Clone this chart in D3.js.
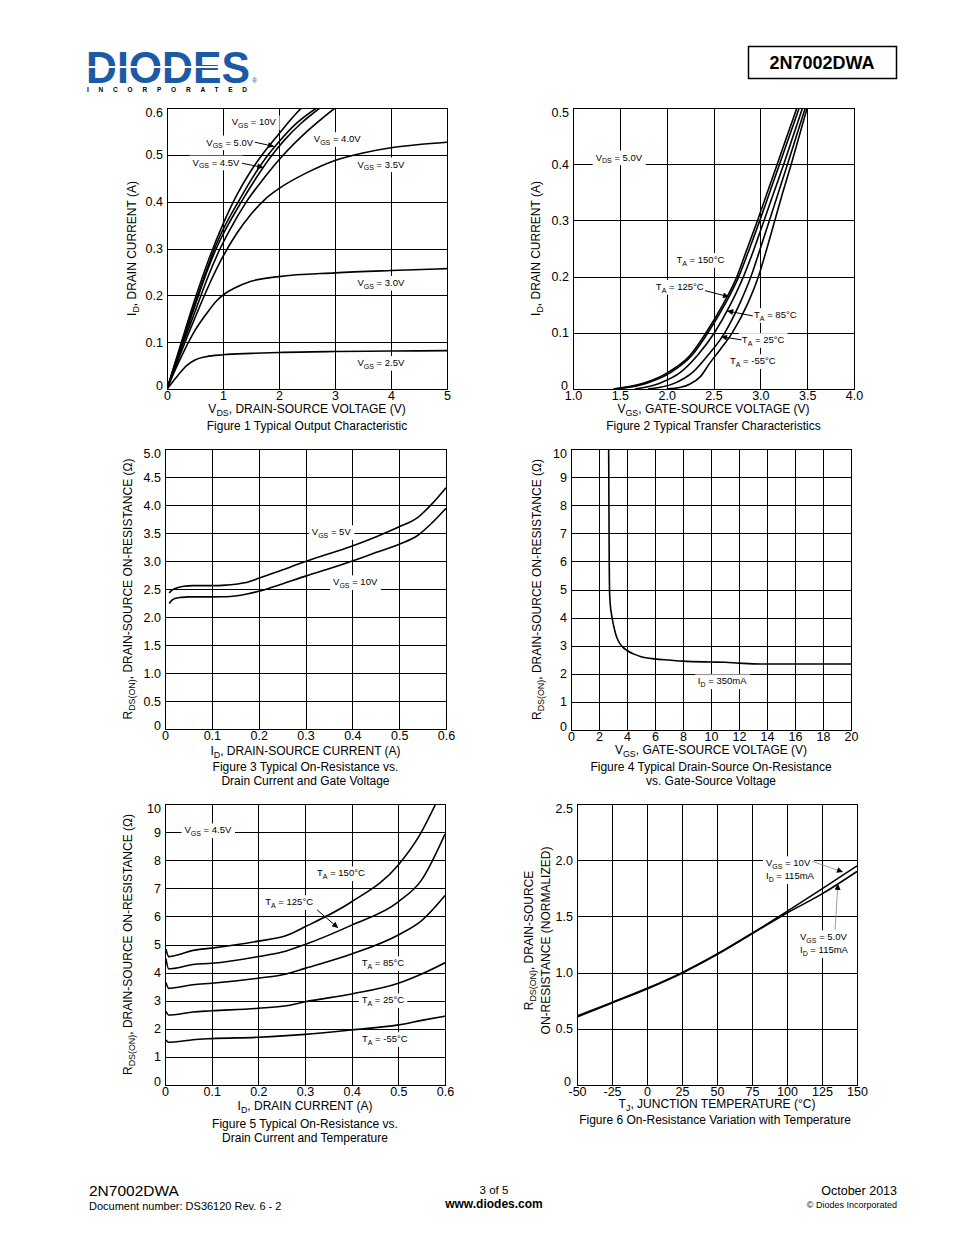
<!DOCTYPE html>
<html><head><meta charset="utf-8">
<script src="https://cdn.jsdelivr.net/npm/d3@7"></script>
<style>
body{margin:0;background:#fff}
svg{display:block}
text{font-family:"Liberation Sans",Arial,Helvetica,sans-serif;white-space:pre}
</style>
</head><body>
<svg id="page" width="954" height="1235"></svg>
<script>
// ---------------- DATA ----------------
// Figure 1: Typical Output Characteristic  [VDS (V), ID (A)]
const f1XTicks = [0,1,2,3,4,5];
const f1YTicks = [0,0.1,0.2,0.3,0.4,0.5,0.6];
const f1Vgs10 = [[0,0],[0.25,0.097],[0.5,0.192],[0.75,0.278],[1,0.352],[1.25,0.415],[1.5,0.466],[1.75,0.508],[2,0.545],[2.2,0.574],[2.4,0.6]];
const f1Vgs50 = [[0,0],[0.25,0.093],[0.5,0.183],[0.75,0.268],[0.85,0.3],[1,0.34],[1.29,0.403],[1.5,0.446],[1.78,0.496],[2,0.528],[2.3,0.566],[2.67,0.6]];
const f1Vgs45 = [[0,0],[0.25,0.09],[0.5,0.178],[0.75,0.262],[0.88,0.3],[1,0.33],[1.33,0.4],[1.6,0.452],[1.86,0.497],[2.1,0.532],[2.4,0.568],[2.73,0.6]];
const f1Vgs40 = [[0,0],[0.25,0.085],[0.5,0.165],[0.75,0.245],[0.95,0.3],[1.1,0.335],[1.42,0.4],[1.75,0.453],[2.08,0.5],[2.5,0.55],[3.0,0.6]];
const f1Vgs35 = [[0,0],[0.25,0.078],[0.5,0.152],[0.75,0.222],[1,0.283],[1.25,0.333],[1.5,0.373],[1.75,0.405],[2,0.428],[2.5,0.462],[3,0.488],[3.5,0.504],[4,0.515],[4.5,0.522],[5,0.527]];
const f1Vgs30 = [[0,0],[0.15,0.042],[0.3,0.08],[0.5,0.125],[0.7,0.16],[0.9,0.19],[1.05,0.205],[1.2,0.215],[1.5,0.23],[2,0.24],[3,0.248],[4,0.253],[5,0.257]];
const f1Vgs25 = [[0,0],[0.1,0.015],[0.2,0.03],[0.35,0.05],[0.5,0.062],[0.7,0.069],[1,0.073],[1.5,0.076],[2,0.078],[3,0.08],[4,0.081],[5,0.082]];

// Figure 2: Typical Transfer Characteristics  [VGS (V), ID (A)]
const f2XTicks = [1.0,1.5,2.0,2.5,3.0,3.5,4.0];
const f2YTicks = [0,0.1,0.2,0.3,0.4,0.5];
const f2Ta150 = [[1.43,0],[1.75,0.01],[2.02,0.03],[2.25,0.06],[2.42,0.1],[2.6,0.15],[2.75,0.2],[2.86,0.25],[2.97,0.3],[3.075,0.35],[3.18,0.4],[3.285,0.45],[3.39,0.5]];
const f2Ta125 = [[1.45,0],[1.78,0.01],[2.05,0.03],[2.27,0.06],[2.44,0.1],[2.62,0.15],[2.77,0.2],[2.885,0.25],[2.995,0.3],[3.1,0.35],[3.205,0.4],[3.31,0.45],[3.415,0.5]];
const f2Ta85 = [[1.66,0],[1.92,0.01],[2.15,0.03],[2.33,0.06],[2.51,0.1],[2.68,0.15],[2.82,0.2],[2.935,0.25],[3.04,0.3],[3.145,0.35],[3.25,0.4],[3.35,0.45],[3.45,0.5]];
const f2Ta25 = [[1.8,0],[2.08,0.01],[2.28,0.03],[2.44,0.06],[2.62,0.1],[2.775,0.15],[2.9,0.2],[3.0,0.25],[3.097,0.3],[3.194,0.35],[3.29,0.4],[3.385,0.45],[3.48,0.5]];
const f2TaM55 = [[2.0,0],[2.15,0.003],[2.25,0.009],[2.36,0.022],[2.46,0.046],[2.57,0.07],[2.7,0.1],[2.86,0.15],[2.98,0.2],[3.07,0.25],[3.155,0.3],[3.24,0.35],[3.33,0.4],[3.415,0.45],[3.5,0.5]];

// Figure 3: On-Resistance vs Drain Current and Gate Voltage  [ID (A), RDS(ON) (ohm)]
const f3XTicks = [0,0.1,0.2,0.3,0.4,0.5,0.6];
const f3YTicks = [0,0.5,1.0,1.5,2.0,2.5,3.0,3.5,4.0,4.5,5.0];
const f3Vgs5 = [[0.009,2.43],[0.015,2.48],[0.025,2.52],[0.04,2.55],[0.06,2.56],[0.1,2.56],[0.13,2.57],[0.17,2.61],[0.2,2.69],[0.25,2.84],[0.3,2.99],[0.35,3.13],[0.4,3.27],[0.45,3.43],[0.5,3.61],[0.54,3.78],[0.57,4.02],[0.6,4.31]];
const f3Vgs10 = [[0.009,2.24],[0.015,2.3],[0.021,2.33],[0.035,2.35],[0.05,2.36],[0.1,2.36],[0.13,2.362],[0.15,2.375],[0.175,2.41],[0.2,2.46],[0.25,2.59],[0.3,2.73],[0.35,2.86],[0.4,3.0],[0.45,3.15],[0.5,3.3],[0.54,3.46],[0.57,3.68],[0.6,3.94]];

// Figure 4: On-Resistance vs Gate-Source Voltage  [VGS (V), RDS(ON) (ohm)]
const f4XTicks = [0,2,4,6,8,10,12,14,16,18,20];
const f4YTicks = [0,1,2,3,4,5,6,7,8,9,10];
const f4Id350 = [[2.69,10],[2.71,8],[2.73,6],[2.75,5],[2.8,4.5],[2.9,4.1],[3.05,3.7],[3.2,3.4],[3.4,3.15],[3.7,2.95],[4.0,2.83],[4.5,2.7],[5,2.61],[6,2.53],[7,2.49],[8,2.45],[10,2.42],[11,2.41],[12,2.38],[13.5,2.35],[16,2.35],[20,2.35]];

// Figure 5: On-Resistance vs Drain Current and Temperature  [ID (A), RDS(ON) (ohm)]
const f5XTicks = [0,0.1,0.2,0.3,0.4,0.5,0.6];
const f5YTicks = [0,1,2,3,4,5,6,7,8,9,10];
const f5TaM55 = [[0.002,1.6],[0.008,1.52],[0.02,1.53],[0.06,1.61],[0.1,1.65],[0.2,1.7],[0.3,1.8],[0.4,1.96],[0.5,2.14],[0.55,2.3],[0.6,2.45]];
const f5Ta25 = [[0.002,2.62],[0.008,2.49],[0.02,2.5],[0.06,2.6],[0.1,2.64],[0.2,2.73],[0.26,2.82],[0.3,2.96],[0.4,3.24],[0.5,3.62],[0.55,3.95],[0.6,4.35]];
const f5Ta85 = [[0.002,3.65],[0.008,3.44],[0.02,3.46],[0.06,3.57],[0.1,3.62],[0.2,3.8],[0.26,3.95],[0.3,4.15],[0.4,4.66],[0.5,5.34],[0.55,5.85],[0.6,6.74]];
const f5Ta125 = [[0.002,4.5],[0.008,4.13],[0.02,4.15],[0.06,4.29],[0.1,4.33],[0.2,4.57],[0.26,4.77],[0.3,5.0],[0.4,5.69],[0.5,6.52],[0.55,7.3],[0.6,8.93]];
const f5Ta150 = [[0.002,4.84],[0.008,4.57],[0.02,4.6],[0.06,4.79],[0.1,4.87],[0.2,5.12],[0.26,5.32],[0.3,5.63],[0.4,6.52],[0.5,7.83],[0.546,8.9],[0.58,10]];

// Figure 6: On-Resistance Variation with Temperature  [TJ (C), RDS(ON) normalized]
const f6XTicks = [-50,-25,0,25,50,75,100,125,150];
const f6YTicks = [0,0.5,1.0,1.5,2.0,2.5];
const f6Vgs10 = [[-50,0.615],[-25,0.735],[0,0.86],[25,1.0],[50,1.165],[75,1.35],[100,1.545],[125,1.745],[150,1.95]];
const f6Vgs5 = [[-50,0.605],[-25,0.73],[0,0.855],[25,0.995],[50,1.16],[75,1.345],[100,1.53],[125,1.7],[150,1.9]];

// ---------------- DRAWING ----------------
const svg = d3.select('#page');
const FONT = '"Liberation Sans",Arial,Helvetica,sans-serif';
const defs = svg.append('defs');
defs.append('marker').attr('id','arr').attr('viewBox','0 0 10 10').attr('refX',10).attr('refY',5)
  .attr('markerWidth',8).attr('markerHeight',6).attr('markerUnits','userSpaceOnUse').attr('orient','auto')
  .append('path').attr('d','M0,0 L10,5 L0,10 Z').attr('fill','#000');

function rich(t, s, fs) {
  const parts = s.split(/(\{[^}]*\})/).filter(p => p.length);
  let sub = false;
  parts.forEach(p => {
    if (p[0] === '{') {
      t.append('tspan').attr('dy', fs*0.28).attr('font-size', fs*0.74).text(p.slice(1,-1));
      sub = true;
    } else {
      const ts = t.append('tspan').text(p);
      if (sub) { ts.attr('dy', -fs*0.28); sub = false; }
    }
  });
  return t;
}
function txt(g, x, y, s, fs, anchor, weight) {
  const t = g.append('text').attr('x', x).attr('y', y).attr('font-size', fs)
    .attr('text-anchor', anchor || 'start').attr('font-weight', weight || 'normal').attr('fill','#000');
  return rich(t, s, fs);
}
const fmt1 = d => d === 0 ? '0' : d3.format('.1f')(d);
const fmt0 = d => String(d);

let clipN = 0;
function chart(o) {
  const g = svg.append('g');
  const x = d3.scaleLinear().domain(o.xd).range([o.l, o.r]);
  const y = d3.scaleLinear().domain(o.yd).range([o.b, o.t]);
  const cr = v => Math.round(v) + 0.5;
  // grid
  g.append('g').selectAll('line').data(o.xt).join('line')
    .attr('x1', d => cr(x(d))).attr('x2', d => cr(x(d))).attr('y1', o.t).attr('y2', o.b)
    .attr('stroke', '#000').attr('stroke-width', 1);
  g.append('g').selectAll('line').data(o.yt).join('line')
    .attr('y1', d => cr(y(d))).attr('y2', d => cr(y(d))).attr('x1', o.l).attr('x2', o.r)
    .attr('stroke', '#000').attr('stroke-width', 1);
  g.append('rect').attr('x', cr(o.l)).attr('y', cr(o.t)).attr('width', Math.round(o.r)-Math.round(o.l)).attr('height', Math.round(o.b)-Math.round(o.t))
    .attr('fill','none').attr('stroke','#000').attr('stroke-width',1);
  // tick labels
  const TF = 12.5;
  const ax = g.append('g').attr('transform', `translate(0,${o.b})`)
    .call(d3.axisBottom(x).tickValues(o.xt).tickFormat(o.xf).tickSize(0).tickPadding(2));
  ax.select('.domain').remove();
  ax.attr('font-family', FONT).attr('font-size', TF);
  ax.selectAll('text').attr('fill','#000');
  const ay = g.append('g').attr('transform', `translate(${o.l},0)`)
    .call(d3.axisLeft(y).tickValues(o.yt).tickFormat(o.yf).tickSize(0).tickPadding(4));
  ay.select('.domain').remove();
  ay.attr('font-family', FONT).attr('font-size', TF);
  ay.selectAll('text').attr('fill','#000');
  const ymax = d3.max(o.yt), ymin = d3.min(o.yt);
  ay.selectAll('.tick').filter(d => d === ymax).select('text').attr('dy', '0.65em');
  ay.selectAll('.tick').filter(d => d === ymin).select('text').attr('dy', '0.02em').attr('dx', o.zeroDx || 0);
  // clip
  const cid = 'clip' + (++clipN);
  defs.append('clipPath').attr('id', cid).append('rect')
    .attr('x', o.l).attr('y', o.t).attr('width', o.r - o.l).attr('height', o.b - o.t);
  const line = d3.line().x(d => x(d[0])).y(d => y(d[1])).curve(d3.curveMonotoneX);
  g.append('g').attr('clip-path', `url(#${cid})`).selectAll('path').data(o.series).join('path')
    .attr('d', d => line(d)).attr('fill','none').attr('stroke','#000').attr('stroke-width',1.6)
    .attr('stroke-linejoin','round');
  // annotations: labels with white background
  (o.labels || []).forEach(L => {
    const fs = L.fs || 9.5;
    const lg = g.append('g');
    const t = txt(lg, x(L.x), y(L.y) + fs*0.35, L.s, fs, L.anchor || 'middle');
    const bb = t.node().getBBox();
    lg.insert('rect', 'text').attr('x', bb.x - 3).attr('y', bb.y - 1).attr('width', bb.width + 6).attr('height', bb.height + 2).attr('fill', '#fff');
  });
  (o.arrows || []).forEach(A => {
    g.append('line').attr('x1', x(A.from[0])).attr('y1', y(A.from[1])).attr('x2', x(A.to[0])).attr('y2', y(A.to[1]))
      .attr('stroke', A.color || '#000').attr('stroke-width', A.w || 1).attr('marker-end', 'url(#arr)');
  });
  // axis titles
  const ttl = g.append('g');
  txt(ttl, (o.l + o.r)/2, o.b + o.xtDy, o.xTitle, 12, 'middle');
  o.caption.forEach((c, i) => txt(ttl, (o.l + o.r)/2 + (o.capDx||0), o.b + o.capDy + i*14, c, 12, 'middle'));
  o.yTitle.forEach((yt, i) => {
    const t = ttl.append('text').attr('transform', `translate(${o.ytX[i]},${(o.t + o.b)/2 + (o.ytDy||0)}) rotate(-90)`)
      .attr('font-size', 12).attr('text-anchor', 'middle').attr('fill','#000');
    rich(t, yt, 12);
  });
}

// ---- Figure 1
chart({l:167, r:447, t:108, b:389, xd:[0,5], yd:[0,0.6], xt:f1XTicks, yt:f1YTicks, xf:fmt0, yf:fmt1,
  series:[f1Vgs10,f1Vgs50,f1Vgs45,f1Vgs40,f1Vgs35,f1Vgs30,f1Vgs25],
  labels:[
    {s:'V{GS} = 10V', x:1.55, y:0.57},
    {s:'V{GS} = 5.0V', x:1.12, y:0.527},
    {s:'V{GS} = 4.5V', x:0.875, y:0.484},
    {s:'V{GS} = 4.0V', x:3.04, y:0.534},
    {s:'V{GS} = 3.5V', x:3.82, y:0.48},
    {s:'V{GS} = 3.0V', x:3.82, y:0.227},
    {s:'V{GS} = 2.5V', x:3.82, y:0.056}],
  arrows:[{from:[1.57,0.527], to:[1.91,0.518]},{from:[1.34,0.482], to:[1.72,0.473]}],
  xTitle:'V{DS}, DRAIN-SOURCE VOLTAGE (V)', xtDy:24, caption:['Figure 1 Typical Output Characteristic'], capDy:41,
  yTitle:['I{D}, DRAIN CURRENT (A)'], ytX:[136]});

// ---- Figure 2
chart({l:573, r:854, t:108, b:389, xd:[1,4], yd:[0,0.5], xt:f2XTicks, yt:f2YTicks, xf:d3.format('.1f'), yf:fmt1, zeroDx:-1,
  series:[f2Ta150,f2Ta125,f2Ta85,f2Ta25,f2TaM55],
  labels:[
    {s:'V{DS} = 5.0V', x:1.49, y:0.4125},
    {s:'T{A} = 150°C', x:2.36, y:0.23},
    {s:'T{A} = 125°C', x:2.14, y:0.182},
    {s:'T{A} = 85°C', x:3.16, y:0.132},
    {s:'T{A} = 25°C', x:3.03, y:0.0875},
    {s:'T{A} = -55°C', x:2.92, y:0.05}],
  arrows:[{from:[2.41,0.175], to:[2.665,0.164]},{from:[2.92,0.13], to:[2.645,0.139]},{from:[2.8,0.0875], to:[2.58,0.093]}],
  xTitle:'V{GS}, GATE-SOURCE VOLTAGE (V)', xtDy:24, caption:['Figure 2 Typical Transfer Characteristics'], capDy:41,
  yTitle:['I{D}, DRAIN CURRENT (A)'], ytX:[540]});

// ---- Figure 3
chart({l:165, r:446, t:449, b:729, xd:[0,0.6], yd:[0,5], xt:f3XTicks, yt:f3YTicks, xf:fmt1, yf:fmt1,
  series:[f3Vgs5,f3Vgs10],
  labels:[{s:'V{GS} = 5V', x:0.355, y:3.52},{s:'V{GS} = 10V', x:0.406, y:2.625}],
  xTitle:'I{D}, DRAIN-SOURCE CURRENT (A)', xtDy:26, caption:['Figure 3 Typical On-Resistance vs.','Drain Current and Gate Voltage'], capDy:42,
  yTitle:['R{DS(ON)}, DRAIN-SOURCE ON-RESISTANCE (Ω)'], ytX:[132]});

// ---- Figure 4
chart({l:571, r:851, t:449, b:730, xd:[0,20], yd:[0,10], xt:f4XTicks, yt:f4YTicks, xf:fmt0, yf:fmt0,
  series:[f4Id350],
  labels:[{s:'I{D} = 350mA', x:10.8, y:1.74}],
  xTitle:'V{GS}, GATE-SOURCE VOLTAGE (V)', xtDy:24, caption:['Figure 4 Typical Drain-Source On-Resistance','vs. Gate-Source Voltage'], capDy:41,
  yTitle:['R{DS(ON)}, DRAIN-SOURCE ON-RESISTANCE (Ω)'], ytX:[541]});

// ---- Figure 5
chart({l:165, r:445, t:804, b:1085, xd:[0,0.6], yd:[0,10], xt:f5XTicks, yt:f5YTicks, xf:fmt1, yf:fmt0,
  series:[f5TaM55,f5Ta25,f5Ta85,f5Ta125,f5Ta150],
  labels:[
    {s:'V{GS} = 4.5V', x:0.092, y:9.07},
    {s:'T{A} = 150°C', x:0.377, y:7.54},
    {s:'T{A} = 125°C', x:0.266, y:6.51},
    {s:'T{A} = 85°C', x:0.467, y:4.34},
    {s:'T{A} = 25°C', x:0.467, y:3.02},
    {s:'T{A} = -55°C', x:0.471, y:1.64}],
  arrows:[{from:[0.326,6.23], to:[0.371,5.59]}],
  xTitle:'I{D}, DRAIN CURRENT (A)', xtDy:25, caption:['Figure 5 Typical On-Resistance vs.','Drain Current and Temperature'], capDy:43,
  yTitle:['R{DS(ON)}, DRAIN-SOURCE ON-RESISTANCE (Ω)'], ytX:[132]});

// ---- Figure 6
chart({l:577, r:857, t:804, b:1085, xd:[-50,150], yd:[0,2.5], xt:f6XTicks, yt:f6YTicks, xf:fmt0, yf:fmt1, zeroDx:-2,
  series:[f6Vgs10,f6Vgs5],
  labels:[
    {s:'V{GS} = 10V', x:85, y:1.975, anchor:'start'},
    {s:'I{D} = 115mA', x:85, y:1.86, anchor:'start'},
    {s:'V{GS} = 5.0V', x:109.3, y:1.317, anchor:'start'},
    {s:'I{D} = 115mA', x:109.3, y:1.2, anchor:'start'}],
  arrows:[{from:[118,1.99], to:[140,1.895], color:'#888', w:0.8},{from:[134.3,1.38], to:[136.4,1.79], color:'#888', w:0.8}],
  xTitle:'T{J}, JUNCTION TEMPERATURE (°C)', xtDy:23, capDx:-2, caption:['Figure 6 On-Resistance Variation with Temperature'], capDy:39,
  yTitle:['R{DS(ON)}, DRAIN-SOURCE','ON-RESISTANCE (NORMALIZED)'], ytX:[533,550], ytDy:-4});

// ---------------- HEADER ----------------
const hdr = svg.append('g');
hdr.append('text').attr('x', 86).attr('y', 83).attr('font-size', 45).attr('font-weight', 'bold')
  .attr('fill', '#1d5aa6').attr('textLength', 164).attr('lengthAdjust', 'spacingAndGlyphs').text('DIODES');
hdr.append('line').attr('x1', 86).attr('x2', 222).attr('y1', 67).attr('y2', 67).attr('stroke', '#fff').attr('stroke-width', 2);
hdr.append('text').attr('x', 252).attr('y', 83).attr('font-size', 7).attr('fill', '#1d5aa6').text('®');
hdr.append('text').attr('x', 87).attr('y', 92).attr('font-size', 6.5).attr('font-weight', 'bold').attr('fill', '#000')
  .attr('textLength', 160).attr('lengthAdjust', 'spacing').text('INCORPORATED');
hdr.append('rect').attr('x', 748.5).attr('y', 46.5).attr('width', 148).attr('height', 32).attr('fill', 'none').attr('stroke', '#000').attr('stroke-width', 1.5);
hdr.append('text').attr('x', 822).attr('y', 69).attr('font-size', 18).attr('font-weight', 'bold').attr('text-anchor', 'middle').attr('fill','#000').text('2N7002DWA');

// ---------------- FOOTER ----------------
const ftr = svg.append('g');
txt(ftr, 89, 1196, '2N7002DWA', 15.5, 'start');
txt(ftr, 89, 1210, 'Document number: DS36120 Rev. 6 - 2', 11, 'start');
txt(ftr, 494, 1194, '3 of 5', 11.5, 'middle');
txt(ftr, 494, 1208, 'www.diodes.com', 12, 'middle', 'bold');
txt(ftr, 897, 1195, 'October 2013', 12.5, 'end');
txt(ftr, 897, 1208, '© Diodes Incorporated', 9, 'end');
</script>
</body></html>
